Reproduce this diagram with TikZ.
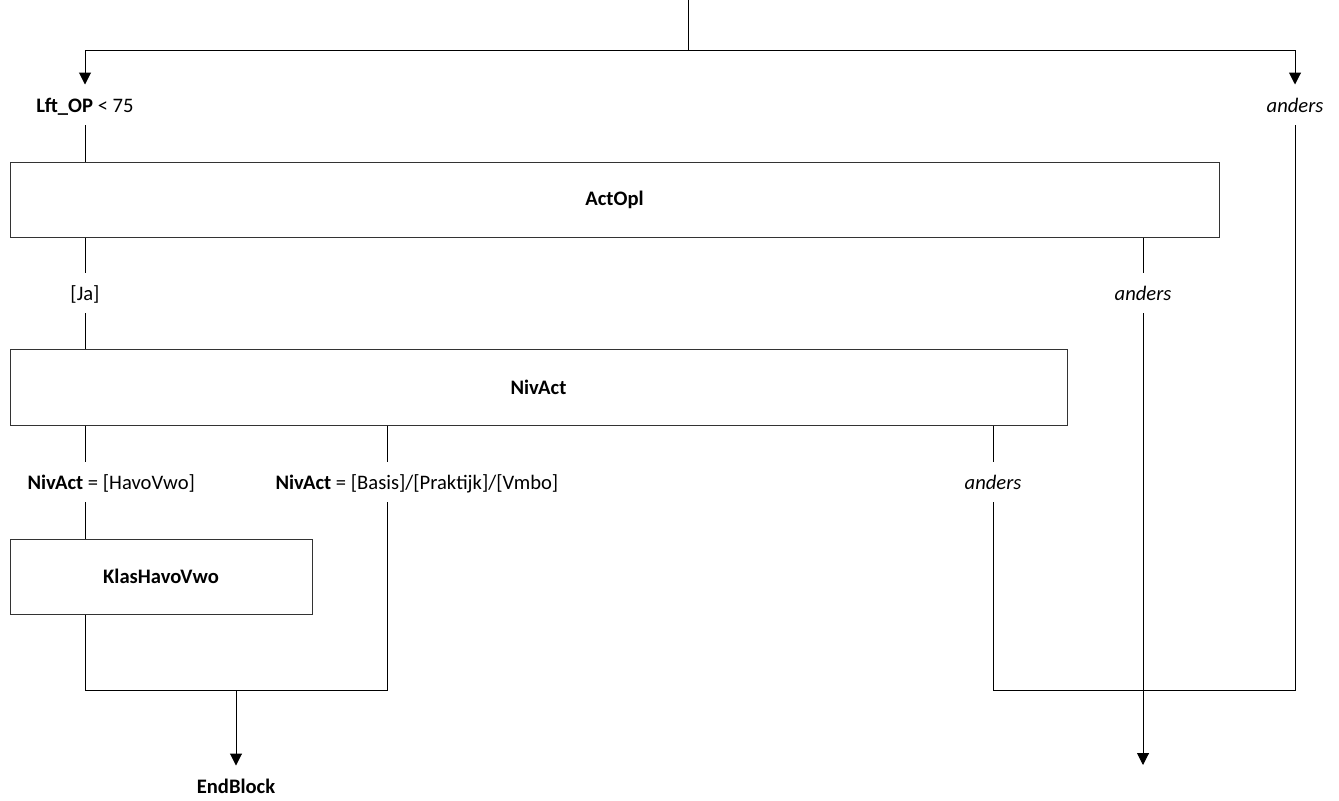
\documentclass[tikz,border=0pt]{standalone}
\usepackage{fontspec}
\setmainfont{Carlito}
\usetikzlibrary{arrows.meta, positioning, calc}

\begin{document}
\begin{tikzpicture}[x=0.5pt, y=-0.5pt, line width=0.5pt,
    font=\fontsize{10.3pt}{12pt}\selectfont,
    blok/.style={rectangle, draw=black!80, minimum height=37.5pt, font=\fontsize{10.3pt}{12pt}\selectfont\bfseries, align=center},
    lbl/.style={anchor=base, inner xsep=2pt, inner ysep=0pt, text height=13.5pt, text depth=6.25pt},
    pijl/.style={-{Triangle[width=6pt,length=6pt]}}]
    \useasboundingbox (0,0) rectangle (1339,800);
    % lanes and junctions
    \coordinate (laneA) at (85,0);
    \coordinate (laneC) at (387,0);
    \coordinate (laneE) at (1143,0);
    \coordinate (top) at (688,0);
    \coordinate (fork) at (688,50);
    \coordinate (mergeL) at (236,690);
    \coordinate (mergeR) at (1295,690);
    \coordinate (exitR) at (1143,765);
    % blocks
    \node[blok, minimum width=604.5pt] (actopl) at (614.5,199.5) {ActOpl};
    \node[blok, minimum width=528.5pt, minimum height=38pt] (nivact) at (538.5,387) {NivAct};
    \node[blok, minimum width=151pt] (klas) at (161,576.5) {KlasHavoVwo};
    % conditions
    \node[lbl] (lftop) at (85,112) {\textbf{Lft\_OP} < 75};
    \node[lbl] (anders1) at (1295,112) {\textit{anders}};
    \node[lbl] (ja) at (85,300) {[Ja]};
    \node[lbl] (anders2) at (1143,300) {\textit{anders}};
    \node[lbl, anchor=base west] (havo) at (23,489) {\textbf{NivAct} = [HavoVwo]};
    \node[lbl, anchor=base west] (basis) at (271,489) {\textbf{NivAct} = [Basis]/[Praktijk]/[Vmbo]};
    \node[lbl] (anders3) at (993,489) {\textit{anders}};
    \node[lbl, font=\fontsize{10.3pt}{12pt}\selectfont\bfseries] (endblock) at (236,793) {EndBlock};
    % connectors
    \draw (top) -- (fork);
    \draw[pijl] (fork) -| (lftop.north);
    \draw[pijl] (fork) -| (anders1.north);
    \draw (lftop.south) -- (laneA |- actopl.north);
    \draw (laneA |- actopl.south) -- (ja.north);
    \draw (ja.south) -- (laneA |- nivact.north);
    \draw (laneE |- actopl.south) -- (anders2.north);
    \draw[pijl] (anders2.south) -- (exitR);
    \draw (laneA |- nivact.south) -- (laneA |- havo.north);
    \draw (laneC |- nivact.south) -- (laneC |- basis.north);
    \draw (anders3 |- nivact.south) -- (anders3.north);
    \draw (laneA |- havo.south) -- (laneA |- klas.north);
    \draw (laneA |- klas.south) |- (mergeL) -| (laneC |- basis.south);
    \draw[pijl] (mergeL) -- (endblock.north);
    \draw (anders3.south) |- (mergeR) -- (anders1.south);
\end{tikzpicture}
\end{document}
